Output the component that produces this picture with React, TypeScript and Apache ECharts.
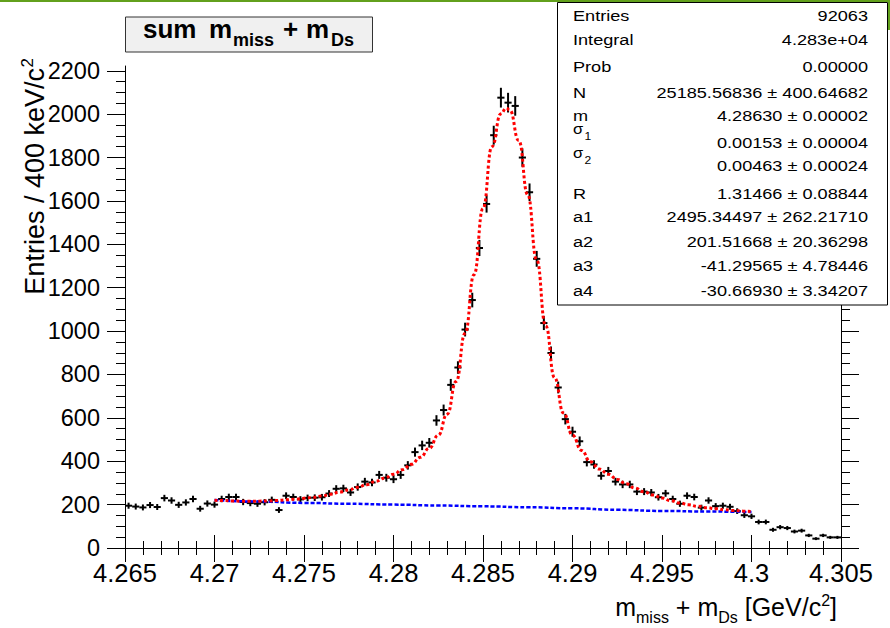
import React, { useEffect, useRef } from 'react';
import * as echarts from 'echarts';

// ---------------- data ----------------
const BIN_LOW = 4.265;
const BIN_WIDTH = 0.0004;
const X_MIN = 4.265;
const X_MAX = 4.305;
const Y_MIN = 0;
const Y_MAX = 2222;

const counts = [
  195, 191, 187, 198, 189, 230, 219, 199, 210, 226,
  181, 205, 200, 226, 235, 235, 212, 207, 204, 211,
  222, 175, 241, 235, 224, 231, 232, 234, 251, 273,
  275, 256, 281, 306, 302, 337, 324, 317, 337, 381,
  442, 473, 485, 588, 636, 752, 832, 1007, 1143, 1383,
  1586, 1903, 2076, 2053, 2038, 1800, 1640, 1333, 1037, 899,
  740, 594, 536, 492, 396, 385, 333, 355, 306, 293,
  293, 260, 260, 256, 234, 252, 226, 204, 241, 235,
  186, 219, 193, 195, 190, 170, 151, 146, 120, 120,
  84, 96, 92, 76, 80, 58, 43, 58, 49, 49,
];

const fitX = [
  4.27, 4.2705, 4.271, 4.2715, 4.272, 4.2725, 4.273, 4.2735, 4.274, 4.2745,
  4.275, 4.2755, 4.276, 4.2765, 4.277, 4.2775, 4.278, 4.2785, 4.279, 4.2795,
  4.28, 4.2805, 4.281, 4.2815, 4.282, 4.2825, 4.283, 4.2835, 4.284, 4.2845,
  4.285, 4.2855, 4.286, 4.2863, 4.2865, 4.287, 4.2875, 4.288, 4.2885, 4.289,
  4.2895, 4.29, 4.2905, 4.291, 4.2915, 4.292, 4.2925, 4.293, 4.2935, 4.294,
  4.2945, 4.295, 4.2955, 4.296, 4.2965, 4.297, 4.2975, 4.298, 4.2985, 4.299,
  4.2995, 4.3,
];
const fitY = [
  220, 219, 217, 216, 216, 216, 217, 219, 222, 225,
  229, 233, 240, 248, 258, 268, 280, 292, 307, 322,
  340, 361, 386, 418, 460, 520, 617, 768, 990, 1260,
  1565, 1850, 2002, 2028, 2018, 1878, 1628, 1328, 1025, 785,
  622, 520, 450, 398, 364, 340, 316, 296, 276, 259,
  244, 230, 218, 207, 199, 192, 186, 181, 176, 173,
  170, 168,
];

const bkgX = [4.27, 4.2725, 4.275, 4.2775, 4.28, 4.2825, 4.285, 4.2875, 4.29, 4.2925, 4.295, 4.2975, 4.3];
const bkgY = [221, 214, 208, 204, 200, 196, 192, 188, 183, 176, 171, 168, 166];

const xTickLabels = ['4.265', '4.27', '4.275', '4.28', '4.285', '4.29', '4.295', '4.3', '4.305'];
const yTickLabels = ['0', '200', '400', '600', '800', '1000', '1200', '1400', '1600', '1800', '2000', '2200'];

const statLabels = ['Entries', 'Integral', 'Prob', 'N', 'm', 'σ|1', 'σ|2', 'R', 'a1', 'a2', 'a3', 'a4'];
const statValues = [
  '92063',
  '4.283e+04',
  '0.00000',
  '25185.56836 ± 400.64682',
  '4.28630 ± 0.00002',
  '0.00153 ± 0.00004',
  '0.00463 ± 0.00024',
  '1.31466 ± 0.08844',
  '2495.34497 ± 262.21710',
  '201.51668 ± 20.36298',
  '-41.29565 ± 4.78446',
  '-30.66930 ± 3.34207',
];
const statBaselines = [21.7, 45, 72.7, 98.3, 121.7, 148.3, 171.7, 199.3, 222.7, 247.7, 271, 296.7];

// ---------------- helpers ----------------
const FONT = "'Liberation Sans', Arial, Helvetica, sans-serif";
const CENTRAL = 0.3465; // central baseline offset (em) above alphabetic baseline

const W_REG: Record<string, number> = {
  ' ': 278, '+': 584, '[': 278, ']': 278, '/': 278, '.': 278,
  '0': 556, '1': 556, '2': 556, '3': 556, '4': 556, '5': 556, '6': 556, '7': 556, '8': 556, '9': 556,
  G: 778, V: 667, D: 722, E: 667,
  a: 556, c: 500, e: 556, i: 222, k: 500, m: 833, n: 556, r: 333, s: 500, t: 278, u: 556,
};
function textWidth(s: string, fs: number) {
  let w = 0;
  for (const ch of s) w += W_REG[ch] ?? 556;
  return (w * fs) / 1000;
}

function txt(x: number, baseline: number, text: string, fs: number, opts: any = {}) {
  const align = opts.align || 'left';
  return {
    type: 'text',
    x,
    y: baseline - CENTRAL * fs,
    z: 110,
    scaleX: opts.sx || 1,
    style: {
      text,
      fontSize: fs,
      fontFamily: FONT,
      fontWeight: opts.bold ? 'bold' : 'normal',
      fill: opts.fill || '#000000',
      align,
      textAlign: align,
      verticalAlign: 'middle',
      textVerticalAlign: 'middle',
    },
  };
}

function buildOption() {
  const histData = counts.map((c, i) => [BIN_LOW + (i + 0.5) * BIN_WIDTH, c]);
  const fitData = fitX.map((x, i) => [x, fitY[i]]);
  const bkgData = bkgX.map((x, i) => [x, bkgY[i]]);

  const xMajor = xTickLabels.map((s) => parseFloat(s));
  const xMinor: number[] = [];
  for (let i = 0; i < xMajor.length - 1; i++) {
    for (let k = 1; k < 5; k++) xMinor.push(+(xMajor[i] + k * 0.001).toFixed(4));
  }
  const yMajor = yTickLabels.map((s) => parseFloat(s));
  const yMinor: number[] = [];
  for (let i = 0; i < yMajor.length - 1; i++) {
    for (let k = 1; k < 4; k++) yMinor.push(yMajor[i] + k * 50);
  }

  const black = { color: '#000000', width: 1 };
  const xBase = { type: 'value', min: X_MIN, max: X_MAX, gridIndex: 0, splitLine: { show: false } };
  const yBase = { type: 'value', min: Y_MIN, max: Y_MAX, gridIndex: 0, splitLine: { show: false } };

  const xAxis = [
    {
      ...xBase,
      position: 'bottom',
      axisLine: { show: true, lineStyle: black },
      axisTick: { show: true, inside: false, length: 14, customValues: xMajor, lineStyle: black },
      axisLabel: {
        show: true,
        customValues: xMajor,
        margin: 12,
        fontSize: 25.5,
        fontFamily: FONT,
        color: '#000000',
        formatter: (v: number) => {
          const i = xMajor.findIndex((m) => Math.abs(m - v) < 1e-7);
          return i >= 0 ? xTickLabels[i] : '';
        },
      },
    },
    {
      ...xBase,
      position: 'bottom',
      axisLine: { show: false },
      axisTick: { show: true, inside: false, length: 7, customValues: xMinor, lineStyle: black },
      axisLabel: { show: false },
    },
    {
      ...xBase,
      position: 'top',
      axisLine: { show: true, lineStyle: black },
      axisTick: { show: true, inside: false, length: 13, customValues: xMajor, lineStyle: black },
      axisLabel: { show: false },
    },
    {
      ...xBase,
      position: 'top',
      axisLine: { show: false },
      axisTick: { show: true, inside: false, length: 7, customValues: xMinor, lineStyle: black },
      axisLabel: { show: false },
    },
  ];

  const yAxis = [
    {
      ...yBase,
      position: 'left',
      axisLine: { show: true, lineStyle: black },
      axisTick: { show: true, inside: false, length: 18, customValues: yMajor, lineStyle: black },
      axisLabel: {
        show: true,
        customValues: yMajor,
        margin: 25,
        fontSize: 23.5,
        fontFamily: FONT,
        color: '#000000',
        formatter: (v: number) => {
          const i = yMajor.findIndex((m) => Math.abs(m - v) < 1e-6);
          return i >= 0 ? yTickLabels[i] : '';
        },
      },
    },
    {
      ...yBase,
      position: 'left',
      axisLine: { show: false },
      axisTick: { show: true, inside: false, length: 9, customValues: yMinor, lineStyle: black },
      axisLabel: { show: false },
    },
    {
      ...yBase,
      position: 'right',
      axisLine: { show: true, lineStyle: black },
      axisTick: { show: true, inside: false, length: 18, customValues: yMajor, lineStyle: black },
      axisLabel: { show: false },
    },
    {
      ...yBase,
      position: 'right',
      axisLine: { show: false },
      axisTick: { show: true, inside: false, length: 9, customValues: yMinor, lineStyle: black },
      axisLabel: { show: false },
    },
  ];

  // ---------- graphic: stats box ----------
  const graphics: any[] = [];
  graphics.push({ type: 'rect', x: 0, y: 0, z: 120, shape: { x: 0, y: 0, width: 890, height: 2 }, style: { fill: '#62a01c' } });
  graphics.push({ type: 'rect', x: 0, y: 0, z: 120, shape: { x: 888, y: 0, width: 2, height: 30 }, style: { fill: '#62a01c' } });

  graphics.push({
    type: 'rect',
    z: 105,
    shape: { x: 557.5, y: 2.5, width: 330, height: 302.5 },
    style: { fill: '#ffffff', stroke: '#000000', lineWidth: 1 },
  });
  const SFS = 15.5;
  const SX = 1.17;
  statLabels.forEach((lab, i) => {
    const b = statBaselines[i];
    if (lab.includes('|')) {
      const [g, sub] = lab.split('|');
      graphics.push(txt(573, b - 14, g, 15, { sx: 1.1 }));
      graphics.push(txt(584.5, b - 8, sub, 11, { sx: 1.1 }));
    } else {
      graphics.push(txt(573, b, lab, SFS, { sx: SX }));
    }
    graphics.push(txt(868, b, statValues[i], SFS, { sx: SX, align: 'right' }));
  });

  // ---------- graphic: title box ----------
  graphics.push({
    type: 'rect',
    z: 105,
    shape: { x: 125.5, y: 17, width: 247, height: 35 },
    style: { fill: '#f0f0f0', stroke: '#333333', lineWidth: 1 },
  });
  graphics.push(txt(143, 38.3, 'sum', 26, { bold: true }));
  graphics.push(txt(209, 38.3, 'm', 26, { bold: true }));
  graphics.push(txt(233, 46.7, 'miss', 18, { bold: true }));
  graphics.push(txt(283, 38.3, '+', 26, { bold: true }));
  graphics.push(txt(306, 38.3, 'm', 26, { bold: true }));
  graphics.push(txt(331, 46.7, 'Ds', 18, { bold: true }));

  // ---------- graphic: x axis title ----------
  const xtPieces = [
    { t: 'm', fs: 25, dy: 0, gap: 0 },
    { t: 'miss', fs: 16, dy: 7, gap: 0 },
    { t: '+', fs: 25, dy: 0, gap: 0.278 },
    { t: 'm', fs: 25, dy: 0, gap: 0.278 },
    { t: 'Ds', fs: 16, dy: 7, gap: 0 },
    { t: '[GeV/c', fs: 25, dy: 0, gap: 0.278 },
    { t: '2', fs: 16, dy: -10, gap: 0 },
    { t: ']', fs: 25, dy: 0, gap: 0 },
  ];
  const totalW = xtPieces.reduce((s, p) => s + p.gap * p.fs + textWidth(p.t, p.fs), 0);
  let cx = 837 - totalW;
  const xtBase = 616;
  xtPieces.forEach((p) => {
    cx += p.gap * p.fs;
    graphics.push(txt(cx, xtBase + p.dy, p.t, p.fs));
    cx += textWidth(p.t, p.fs);
  });

  // ---------- graphic: y axis title (rotated) ----------
  const yfs = 27;
  graphics.push({
    type: 'group',
    x: 44.5,
    y: 58,
    rotation: Math.PI / 2,
    z: 110,
    children: [
      {
        type: 'text',
        x: -10,
        y: -CENTRAL * yfs,
        z: 110,
        style: { text: 'Entries / 400 keV/c', fontSize: yfs, fontFamily: FONT, fill: '#000', align: 'right', textAlign: 'right', verticalAlign: 'middle', textVerticalAlign: 'middle' },
      },
      {
        type: 'text',
        x: 0,
        y: -11 - CENTRAL * 17,
        z: 110,
        style: { text: '2', fontSize: 17, fontFamily: FONT, fill: '#000', align: 'right', textAlign: 'right', verticalAlign: 'middle', textVerticalAlign: 'middle' },
      },
    ],
  });

  return {
    animation: false,
    backgroundColor: '#ffffff',
    grid: { left: 125, right: 49, top: 66, bottom: 80, containLabel: false, outerBoundsMode: 'none' },
    xAxis,
    yAxis,
    series: [
      {
        type: 'custom',
        name: 'data',
        xAxisIndex: 0,
        yAxisIndex: 0,
        z: 3,
        clip: false,
        data: histData,
        encode: { x: 0, y: 1 },
        renderItem: (params: any, api: any) => {
          const x = api.value(0);
          const y = api.value(1);
          const e = Math.sqrt(y);
          const hw = BIN_WIDTH / 2;
          const pL = api.coord([x - hw, y]);
          const pR = api.coord([x + hw, y]);
          const pT = api.coord([x, y + e]);
          const pB = api.coord([x, y - e]);
          return {
            type: 'group',
            children: [
              { type: 'line', shape: { x1: pL[0], y1: pL[1], x2: pR[0], y2: pR[1] }, style: { stroke: '#000000', lineWidth: 2 } },
              { type: 'line', shape: { x1: pT[0], y1: pT[1], x2: pB[0], y2: pB[1] }, style: { stroke: '#000000', lineWidth: 2 } },
            ],
          };
        },
      },
      {
        type: 'line',
        name: 'background',
        xAxisIndex: 0,
        yAxisIndex: 0,
        z: 4,
        data: bkgData,
        showSymbol: false,
        symbol: 'none',
        smooth: true,
        smoothMonotone: 'x',
        lineStyle: { color: '#0000ff', width: 2.5, type: [4, 2], cap: 'butt' },
      },
      {
        type: 'line',
        name: 'fit',
        xAxisIndex: 0,
        yAxisIndex: 0,
        z: 5,
        data: fitData,
        showSymbol: false,
        symbol: 'none',
        smooth: true,
        smoothMonotone: 'x',
        lineStyle: { color: '#ff0000', width: 3, type: [3, 2.5], cap: 'butt' },
      },
    ],
    graphic: { elements: graphics },
  };
}

export default function App() {
  const ref = useRef<HTMLDivElement>(null);
  useEffect(() => {
    if (!ref.current) return;
    const chart = echarts.init(ref.current, null, { renderer: 'svg' });
    chart.setOption(buildOption() as any);
    return () => {
      chart.dispose();
    };
  }, []);
  return (
    <div
      ref={ref}
      style={{ position: 'absolute', left: 0, top: 0, width: 890, height: 628, background: '#ffffff' }}
    />
  );
}
